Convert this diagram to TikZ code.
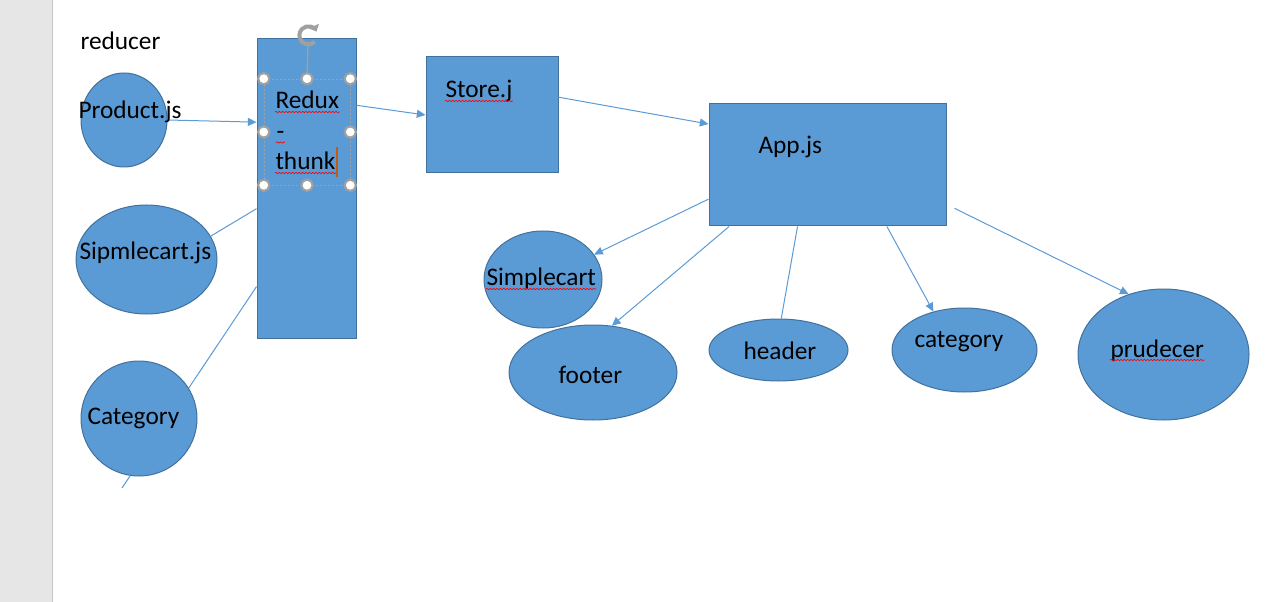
\documentclass[tikz,border=0pt]{standalone}
\usepackage{fontspec}
\setmainfont{Carlito}
\usetikzlibrary{shapes.geometric,arrows.meta,decorations.pathmorphing}

\definecolor{shapefill}{RGB}{91,155,213}
\definecolor{shapeline}{RGB}{65,113,156}
\definecolor{linkblue}{RGB}{91,155,213}
\definecolor{pagegray}{RGB}{230,230,230}
\definecolor{edgegray}{RGB}{198,198,198}
\definecolor{handlegray}{RGB}{160,160,160}
\definecolor{cursororange}{RGB}{197,90,17}

\tikzset{every picture/.style={line width=0.75pt}}
\tikzset{
	blob/.style={ellipse, draw=shapeline, fill=shapefill, inner sep=0pt},
	block/.style={rectangle, draw=shapeline, fill=shapefill, inner sep=0pt},
	txt/.style={anchor=base west, inner sep=0pt, font=\fontsize{19}{23}\selectfont},
	link/.style={draw=linkblue, line width=0.75pt},
	linkarrow/.style={link, -{Triangle[length=6.5pt,width=6pt]}},
	squiggle/.style={draw=red, line width=0.5pt, decorate, decoration={snake, amplitude=0.5pt, segment length=2.5pt}},
	handle/.style={circle, draw=handlegray, fill=white, line width=1.6pt, minimum size=8.5pt, inner sep=0pt},
	selframe/.style={rectangle, draw=handlegray, line width=0.4pt, dash pattern=on 1.5pt off 1.5pt, inner sep=0pt}
}

\begin{document}
\begin{tikzpicture}[x=0.75pt,y=0.75pt,yscale=-1,xscale=1]
		\useasboundingbox (0,0) rectangle (1288,602);
		
		%Page margin
		\fill[pagegray] (0,0) rectangle (52,602);
		\draw[edgegray] (52,0) -- (52,602);
		
		%Shape: Rectangle [Redux-thunk]
		\node[block, minimum width=74.25pt, minimum height=224.25pt] (redux) at (306.5,188.5) {};
		
		%Line behind Category
		\coordinate (catend) at (122,488);
		\draw[link] (catend) -- (redux.243.8);
		
		%Shape: Ellipses (reducers)
		\node[blob, minimum width=64.5pt, minimum height=70.5pt] (prod) at (124,120) {};
		\node[blob, minimum width=105.75pt, minimum height=81.75pt] (simple) at (146.5,259.5) {};
		\node[blob, minimum width=87pt, minimum height=86.25pt] (cat) at (139,418.5) {};
		
		%Shape: Rectangles
		\node[block, minimum width=99pt, minimum height=87pt] (store) at (492,115) {};
		\node[block, minimum width=177.75pt, minimum height=91.5pt] (app) at (827.5,165) {};
		
		%Shape: Ellipses (components)
		\node[blob, minimum width=88.5pt, minimum height=72.75pt] (scart) at (543,279.5) {};
		\node[blob, minimum width=126pt, minimum height=71.25pt] (footer) at (593,372.5) {};
		\node[blob, minimum width=104.25pt, minimum height=46.5pt] (header) at (778.5,350) {};
		\node[blob, minimum width=108.75pt, minimum height=63pt] (categ) at (964.5,350) {};
		\node[blob, minimum width=128.25pt, minimum height=98.25pt] (prud) at (1163.5,354.5) {};
		
		%Connectors
		\draw[linkarrow] (prod.east) -- (redux.127.5);
		\draw[link] (simple.20) -- (redux.202.5);
		\draw[linkarrow] (redux.59) -- (store.west);
		\draw[linkarrow] (store.15.3) -- (app.161.4);
		\draw[linkarrow] (app.196.5) -- (scart.26.6);
		\draw[linkarrow] (app.212.7) -- (footer.68.4);
		\draw[link] (app.244.6) -- (header.85);
		\draw[linkarrow] (app.314.3) -- (categ.129.5);
		\draw[linkarrow] ([xshift=6pt]app.340) -- (prud.120.2);
		
		%Selection frame on the text box
		\node[selframe, minimum width=64.5pt, minimum height=79.5pt] (sel) at (307,132) {};
		\node[circle, minimum size=13.5pt, inner sep=0pt] (rot) at (308,35) {};
		\draw[handlegray, line width=1pt] (sel.north) -- (rot.south);
		\draw[handlegray, line width=3pt, -{Triangle[length=4.5pt,width=8pt]}] (rot.-45) arc[start angle=45, end angle=335, radius=9];
		\foreach \a [count=\i] in {north west,north,north east,west,east,south west,south,south east}
			\node[handle] (h\i) at (sel.\a) {};
		
		%Texts
		\node[txt] (treducer) at (80,50) {reducer};
		\node[txt] (tprod) at (78,119) {Product.js};
		\node[txt] (tsimple) at (79,260) {Sipmlecart.js};
		\node[txt] (tcat) at (87,424) {Category};
		\node[txt] (tredux) at (275,109) {Redux};
		\node[txt] (tdash) at (276,139.5) {-};
		\node[txt] (tthunk) at (275,170) {thunk};
		\node[txt] (tstore) at (445,98) {Store.j};
		\node[txt] (tapp) at (758,154) {App.js};
		\node[txt] (tscart) at (486,286) {Simplecart};
		\node[txt] (tfooter) at (558,383) {footer};
		\node[txt] (theader) at (743,359) {header};
		\node[txt] (tcateg) at (914,347) {category};
		\node[txt] (tprud) at (1110,357) {prudecer};
		
		%Spelling marks and cursor
		\foreach \t in {tredux,tdash,tthunk,tstore,tscart,tprud}
			\draw[squiggle] ([shift={(0,3)}]\t.base west) -- ([shift={(0,3)}]\t.base east);
		\draw[cursororange, line width=1.5pt] ([shift={(1,7)}]tthunk.base east) -- ([shift={(1,-23)}]tthunk.base east);
		
\end{tikzpicture}
\end{document}
